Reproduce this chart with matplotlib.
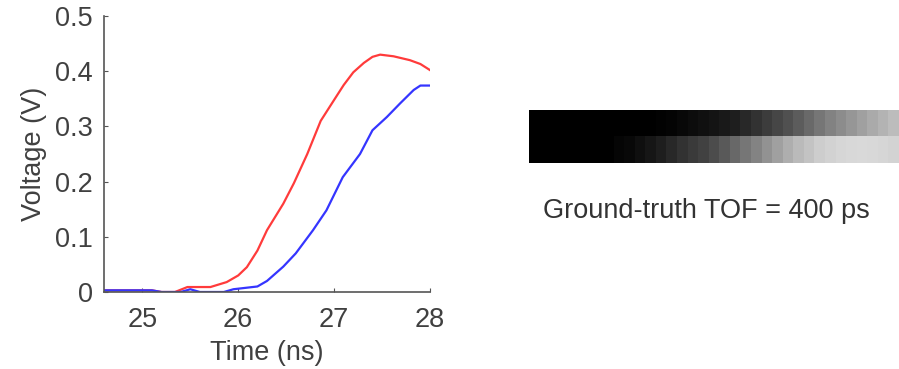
import numpy as np
import matplotlib
matplotlib.use('Agg')
import matplotlib.pyplot as plt

plt.rcParams['font.family'] = ['Liberation Sans', 'DejaVu Sans']

# waveforms
t_red = [24.6, 25.1, 25.2, 25.34, 25.47, 25.71, 25.88, 26.0, 26.09, 26.2, 26.3, 26.47, 26.58,
         26.72, 26.86, 27.0, 27.1, 27.2, 27.31, 27.4, 27.48, 27.62, 27.79, 27.9, 28.0]
v_red = [0.003, 0.003, 0.0, 0.0, 0.009, 0.009, 0.018, 0.03, 0.045, 0.075, 0.112, 0.16, 0.197,
         0.25, 0.31, 0.348, 0.375, 0.398, 0.415, 0.426, 0.43, 0.427, 0.42, 0.413, 0.402]

t_blue = [24.6, 25.1, 25.2, 25.4, 25.5, 25.6, 25.85, 25.95, 26.2, 26.3, 26.47, 26.6,
          26.78, 26.92, 27.09, 27.27, 27.4, 27.55, 27.69, 27.83, 27.9, 28.0]
v_blue = [0.003, 0.003, 0.0, 0.0, 0.005, 0.0, 0.0, 0.005, 0.01, 0.02, 0.046, 0.07,
          0.112, 0.148, 0.208, 0.25, 0.293, 0.317, 0.342, 0.366, 0.374, 0.374]

# grayscale strip, 35 columns, values 0-255
strip_top = [0, 0, 0, 0, 0, 0, 0, 0, 0, 0, 0, 0, 2, 4, 8, 12, 16, 20, 25, 30,
             40, 50, 60, 70, 80, 92, 105, 118, 130, 140, 150, 160, 170, 180, 188]
strip_bottom = [0, 0, 0, 0, 0, 0, 0, 0, 5, 8, 15, 22, 30, 40, 50, 58, 66, 76, 90, 104,
                118, 132, 146, 160, 174, 186, 196, 205, 210, 214, 216, 217, 216, 214, 212]

fig = plt.figure(figsize=(8.99, 3.69), dpi=100)

ax = fig.add_axes([104 / 899, 1 - 292 / 369, 326 / 899, 276 / 369])
ax.plot(t_red, v_red, color='#ff3b3b', lw=1.6)
ax.plot(t_blue, v_blue, color='#3535ff', lw=1.6)
ax.set_xlim(24.6, 28)
ax.set_ylim(0, 0.5)
ax.set_xticks([25, 26, 27, 28])
ax.set_yticks([0, 0.1, 0.2, 0.3, 0.4, 0.5])
ax.set_yticklabels(['0', '0.1', '0.2', '0.3', '0.4', '0.5'])
for s in ['top', 'right']:
    ax.spines[s].set_visible(False)
for s in ['left', 'bottom']:
    ax.spines[s].set_color('#555555')
    ax.spines[s].set_linewidth(1.2)
ax.tick_params(direction='in', length=3, colors='#555555', labelcolor='#404040',
               labelsize=19.5)
ax.tick_params(axis='x', pad=11)
ax.tick_params(axis='y', pad=8)
ax.set_xlabel('Time (ns)', fontsize=19.5, color='#404040', labelpad=5)
ax.set_ylabel('Voltage (V)', fontsize=19.5, color='#404040', labelpad=6)

ax2 = fig.add_axes([529 / 899, 1 - 163 / 369, 370 / 899, 53 / 369])
ax2.imshow(np.array([strip_top, strip_bottom]), cmap='gray', vmin=0, vmax=255,
           aspect='auto', interpolation='nearest')
ax2.axis('off')

fig.text(706 / 899, 1 - 211 / 369, 'Ground-truth TOF = 400 ps', fontsize=19.5,
         color='#333333', ha='center', va='center')

fig.savefig('out.png', dpi=100)
